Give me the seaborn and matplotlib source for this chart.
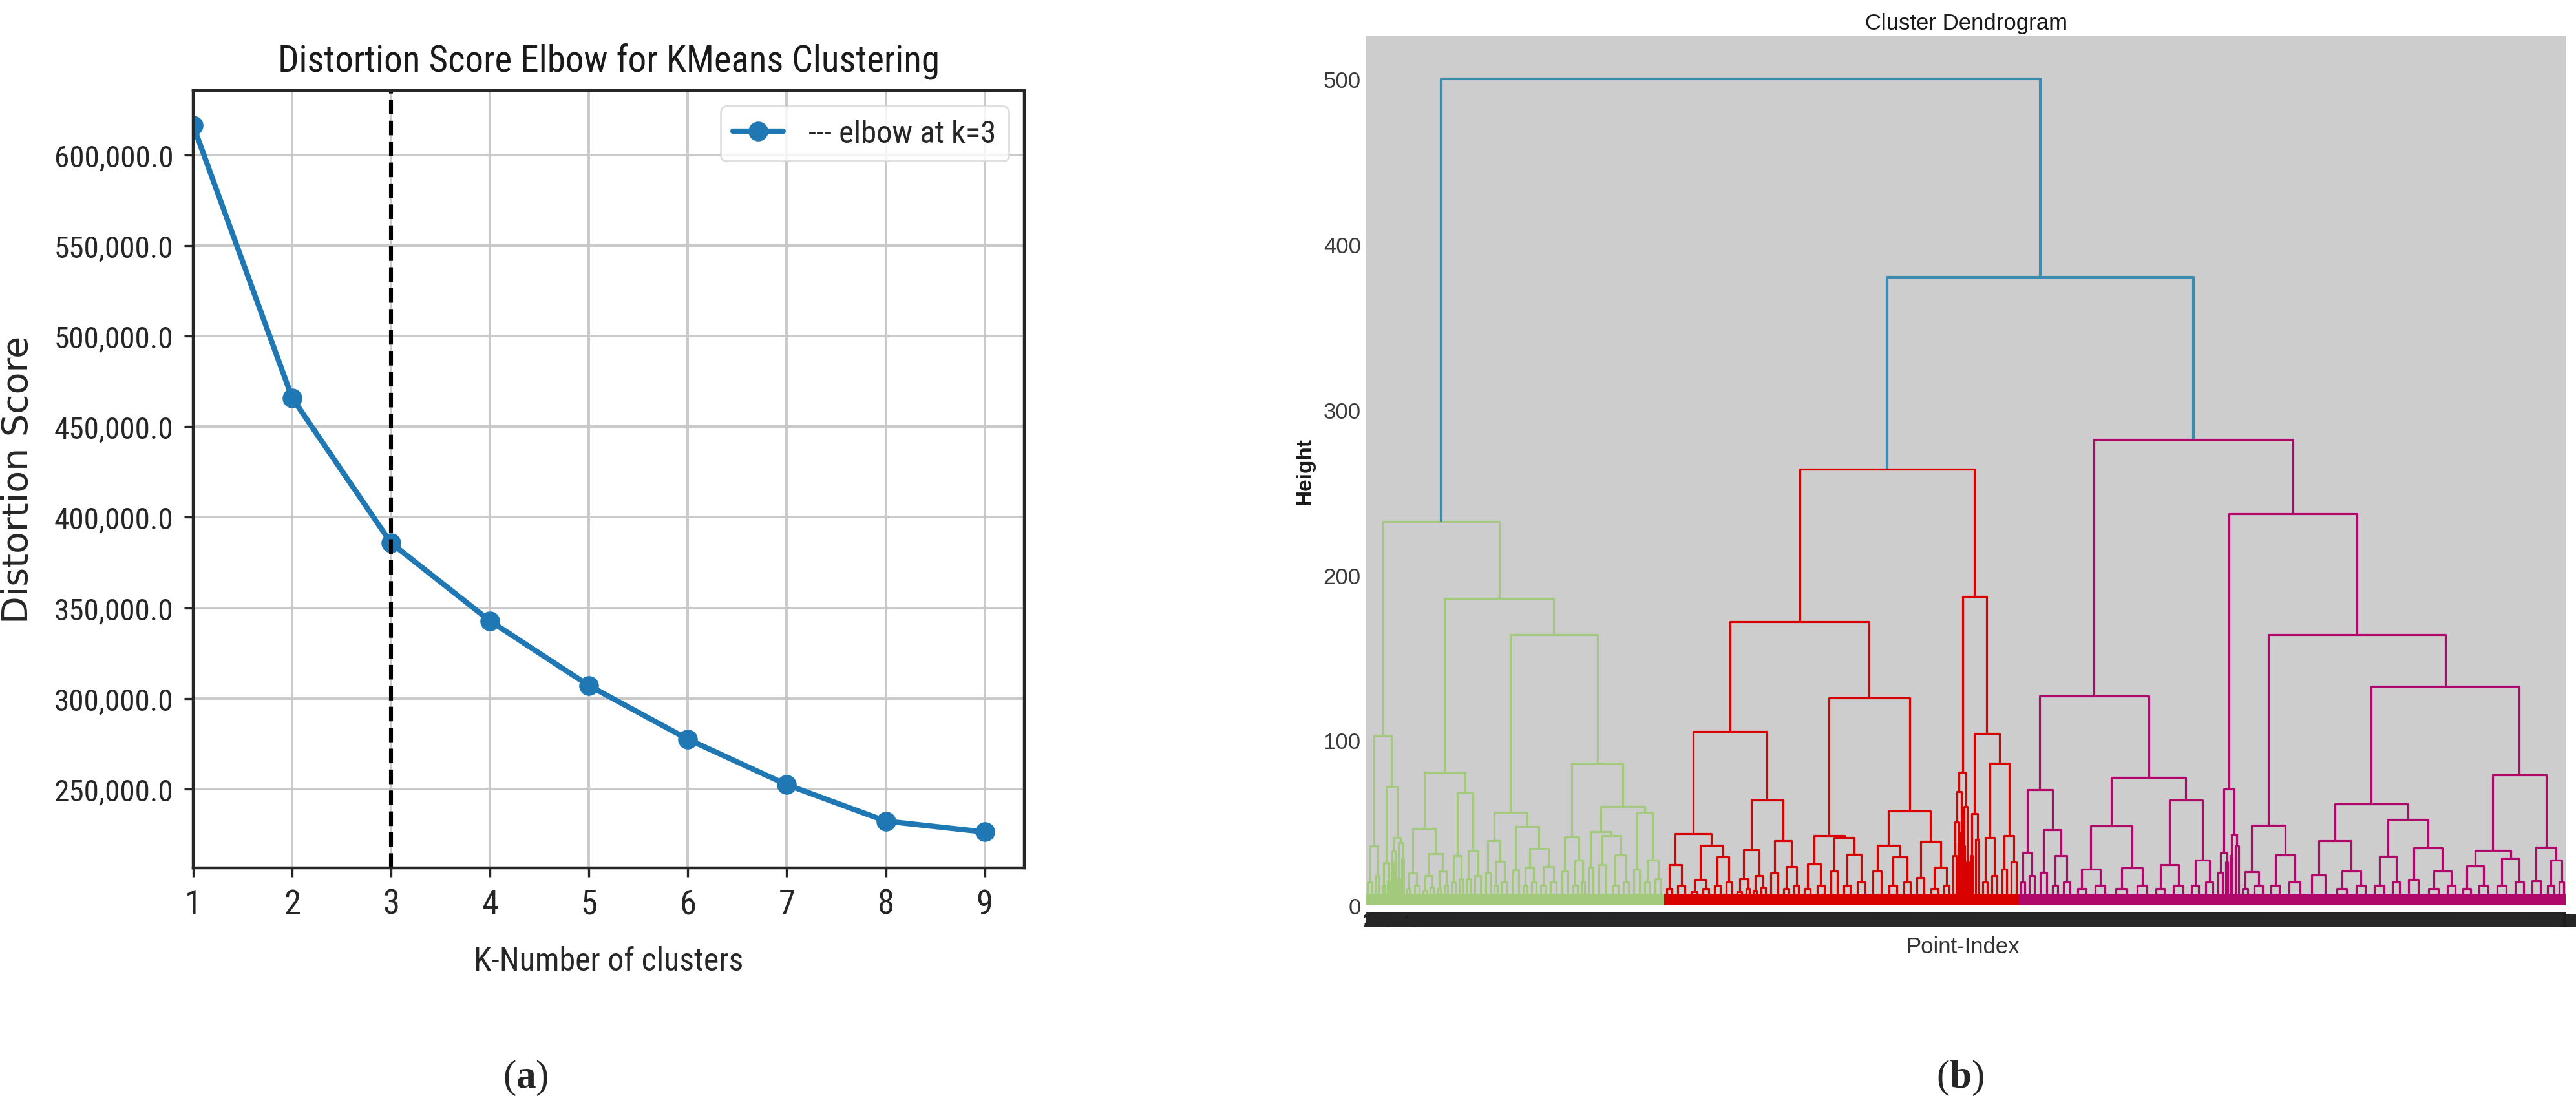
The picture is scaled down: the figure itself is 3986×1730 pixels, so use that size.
import matplotlib
matplotlib.use("Agg")
import matplotlib.pyplot as plt
from matplotlib.collections import LineCollection
from matplotlib.ticker import FuncFormatter
import numpy as np
import pandas as pd
import seaborn as sns

sns.set_style("white")
NARROW = ["Roboto Condensed", "DejaVu Sans"]
plt.rcParams["font.family"] = NARROW
plt.rcParams["mathtext.fontset"] = "custom"
plt.rcParams["mathtext.rm"] = "Liberation Serif"
plt.rcParams["mathtext.bf"] = "Liberation Serif:bold"

# ---------------------------------------------------------------------------
# (a) elbow data
# ---------------------------------------------------------------------------
K_VALUES = [1, 2, 3, 4, 5, 6, 7, 8, 9]
DISTORTION = [616200, 465900, 385800, 342800, 307100, 277500, 252400, 232300, 226300]
ELBOW_K = 3
Y_TICKS = [250000, 300000, 350000, 400000, 450000, 500000, 550000, 600000]

# ---------------------------------------------------------------------------
# (b) dendrogram data
# internal node = [merge height, left, right]; leaf clump = (n points, clump height)
# ---------------------------------------------------------------------------
GREEN_TREE = [232.2,
    [102.7,
        [35.8, (12, 14), (11, 18)],
        [72.0,
            [25.7, (8, 12), (7, 15)],
            [41.0, [33.0, (4, 20), (5, 26)], [38.0, (6, 16), (7, 28)]]]],
    [185.9,
        [80.4,
            [46.7,
                [19.7, (11, 10), (14, 12)],
                [31.4, [18.0, (11, 9), (11, 11)], [20.7, (11, 10), (11, 12)]]],
            [68.1,
                [30.2, (12, 14), (11, 16)],
                [33.2, (12, 16), (17, 18)]]],
        [163.8,
            [56.2,
                [38.9, (14, 20), [26.6, (10, 12), (17, 14)]],
                [47.6, (18, 21.4), [34.3, [23.0, (12, 12), (14, 14)], [23.6, (15, 12), (17, 14)]]]],
            [86.0,
                [41.6, (18, 20.7), [27.2, (14, 12), (10, 14)]],
                [59.7,
                    [44.7, (14, 23), [42.3, (22, 24.6), [30.4, (18, 12), (16, 14)]]],
                    [56.3, (17, 22), [27.5, (15, 14), (19, 16)]]]]]]]

RED_TREE = [263.9,
    [171.6,
        [105.1,
            [43.5, [24.5, (16, 10), (21, 12)],
                   [36.3, [15.5, (19, 8), (17, 10)], [29.2, (18, 12), (18, 14)]]],
            [63.8, [33.7, [16.0, (15, 8), (11, 10)], [18.0, (11, 9), (14, 11)]],
                   [38.9, (21, 19.5), [23.6, (16, 10), (15, 12)]]]],
        [125.6,
            [42.1, [25.0, (19, 10), (22, 12)],
                   [41.0, (20, 20.8), [31.0, (20, 12), (24, 14)]]],
            [57.1, [36.3, (25, 20.8), [29.2, (24, 12), (20, 14)]],
                   [38.6, (21, 16.6), [23.1, (22, 10), (16, 12)]]]]],
    [187.0,
        [80.7, [68.8, [50.6, (9, 30), (4, 38)], (4, 44)], [60.0, (4, 36), (6, 26)]],
        [103.9, [55.6, (7, 30), (11, 40)],
                [85.9, [41.2, (13, 14), (16, 18)], [42.1, (14, 22), (16, 26)]]]]]

MAGENTA_TREE = [282.1,
    [126.7,
        [70.0, [31.9, (12, 14), (16, 18)], [45.7, (20, 20), [30.0, (16, 12), (20, 14)]]],
        [77.6,
            [48.0, [22.0, (26, 10), (31, 12)], [22.8, (35, 10), (29, 12)]],
            [63.8, [24.5, (27, 10), (29, 12)], [27.4, (23, 12), (21, 14)]]]],
    [236.9,
        [70.3, [32.0, (13, 20), (7, 26)], [43.0, (7, 30), (10, 36)]],
        [163.8,
            [48.6, [20.4, (16, 10), (25, 12)], [30.4, (27, 12), (33, 14)]],
            [132.5,
                [61.4,
                    [38.9, (41, 18.4), [20.7, (31, 10), (28, 12)]],
                    [51.8, [29.8, (29, 12), (23, 14)],
                           [34.6, (31, 15.6), [20.7, (31, 10), (24, 12)]]]],
                [78.8,
                    [33.3, [24.0, (24, 10), (28, 12)], [28.5, (28, 12), (26, 14)]],
                    [35.3, (26, 14.9), [27.5, (20, 12), (13, 14)]]]]]]]

ROOT_HEIGHT = 500.0
RIGHT_HEIGHT = 380.2
CLUSTER_COLORS = ["#A3CA7C", "#D90000", "#B0086A"]
ROOT_COLOR = "#3A8DB1"
BAND_H = 7.0


def layout_tree(node, start, color, links, clumps):
    """Place clumps left to right, return (x, height, next start)."""
    if isinstance(node, tuple):
        n, h = node
        clumps.append((start, n, h, color))
        return start + n / 2, h, start + n
    h, left, right = node
    xl, hl, pos = layout_tree(left, start, color, links, clumps)
    xr, hr, pos = layout_tree(right, pos, color, links, clumps)
    links.append(([(xl, hl), (xl, h), (xr, h), (xr, hr)], color))
    return (xl + xr) / 2, h, pos


fig = plt.figure(figsize=(19.93, 8.655), dpi=200)

# ---------------------------------------------------------------------------
# (a) Elbow plot
# ---------------------------------------------------------------------------
ax1 = fig.add_axes([0.075, 0.2236, 0.3226, 0.6949])
elbow = pd.DataFrame({"k": K_VALUES, "distortion": DISTORTION})
ax1.set_axisbelow(True)
ax1.grid(True, color="#c9c9c9", linewidth=1.4)
sns.lineplot(data=elbow, x="k", y="distortion", marker="o", markersize=11,
             markeredgewidth=0, color="#1f77b4", linewidth=3,
             label="--- elbow at k=3", ax=ax1)
ax1.axvline(ELBOW_K, color="black", linestyle="--", linewidth=2.2)
ax1.set_xlim(1, 9.4)
ax1.set_ylim(206500, 635500)
ax1.set_xticks(K_VALUES)
ax1.set_yticks(Y_TICKS)
ax1.yaxis.set_major_formatter(FuncFormatter(lambda v, _: f"{v:,.1f}"))
ax1.tick_params(axis="both", left=True, bottom=True, labelsize=17,
                colors="#262626", length=5, width=1.2, pad=6)
ax1.tick_params(axis="x", labelsize=19)
for s in ax1.spines.values():
    s.set_color("#262626")
    s.set_linewidth(1.6)
ax1.set_title("Distortion Score Elbow for KMeans Clustering", fontsize=20.5,
              color="#1a1a1a", pad=11)
ax1.set_xlabel("K-Number of clusters", fontsize=18, color="#262626")
ax1.xaxis.set_label_coords(0.5, -0.100)
ax1.set_ylabel("Distortion Score", fontsize=20, color="#262626",
               family="DejaVu Sans")
ax1.yaxis.set_label_coords(-0.19, 0.5)
leg = ax1.legend(loc="upper right", fontsize=17.5, handlelength=1.6,
                 framealpha=0.8, edgecolor="#d5d5d5", borderaxespad=0.5)

# ---------------------------------------------------------------------------
# (b) Dendrogram
# ---------------------------------------------------------------------------
ax2 = fig.add_axes([0.5304, 0.1901, 0.4656, 0.7770])
ax2.set_facecolor("#CDCDCD")
for s in ax2.spines.values():
    s.set_visible(False)

links, clumps, tops = [], [], []
pos = 0
for tree, color in zip([GREEN_TREE, RED_TREE, MAGENTA_TREE], CLUSTER_COLORS):
    x, h, pos = layout_tree(tree, pos, color, links, clumps)
    tops.append((x, h))
n_total = pos

(xg, hg), (xr, hr), (xm, hm) = tops
links.append(([(xr, hr), (xr, RIGHT_HEIGHT), (xm, RIGHT_HEIGHT), (xm, hm)], ROOT_COLOR))
x_right = (xr + xm) / 2
links.append(([(xg, hg), (xg, ROOT_HEIGHT), (x_right, ROOT_HEIGHT),
               (x_right, RIGHT_HEIGHT)], ROOT_COLOR))

for start, n, h, color in clumps:
    a, b = start + 0.25 * n, start + 0.75 * n
    links.append(([(a, BAND_H), (a, h), (b, h), (b, BAND_H)], color))

starts = [c[0] for c in clumps]
widths = [c[1] for c in clumps]
ax2.bar(starts, [BAND_H] * len(clumps), width=widths, align="edge",
        color=[c[3] for c in clumps], linewidth=0)

lw = [1.5 if c == ROOT_COLOR else 1.15 for _, c in links]
ax2.add_collection(LineCollection([seg for seg, _ in links],
                                  colors=[c for _, c in links], linewidths=lw))

ax2.set_xlim(0, n_total)
ax2.set_ylim(0, 526)
ax2.set_yticks([0, 100, 200, 300, 400, 500])
ax2.set_yticklabels(["0", "100", "200", "300", "400", "500"],
                    family="Liberation Sans", fontsize=12.5, color="#3a3a3a")
# one leaf label per observation; crowded, they merge into the dark strip
leaf_pos = np.arange(n_total) + 0.5
ax2.set_xticks(leaf_pos)
ax2.set_xticklabels([str(i + 1) for i in range(n_total)], rotation=90,
                    family="Liberation Sans", fontsize=4, fontweight="bold",
                    color="#1a1a1a")
ax2.spines["bottom"].set_position(("outward", 4))
ax2.tick_params(axis="x", bottom=True, labelbottom=True, direction="out",
                length=7.8, width=0.6, color="#1e1e1e", pad=-7.8)
ax2.tick_params(axis="y", length=0, pad=3)
ax2.set_title("Cluster Dendrogram", family="Liberation Sans", fontsize=12.5,
              color="#1a1a1a", pad=4)
ax2.set_xlabel("Point-Index", family="Liberation Sans", fontsize=12.5,
               color="#333333")
ax2.xaxis.set_label_coords(0.497, -0.035)
ax2.set_ylabel("Height", family="Liberation Sans", fontsize=12,
               fontweight="bold", color="#1a1a1a")
ax2.yaxis.set_label_coords(-0.043, 0.5)

# panel letters
fig.text(813 / 3986, 1 - 1668 / 1731, r"($\mathbf{a}$)", ha="center",
         va="center", fontsize=22, family="Liberation Serif")
fig.text(3033 / 3986, 1 - 1668 / 1731, r"($\mathbf{b}$)", ha="center",
         va="center", fontsize=22, family="Liberation Serif")

fig.savefig("out.png", dpi=200, facecolor="white")
